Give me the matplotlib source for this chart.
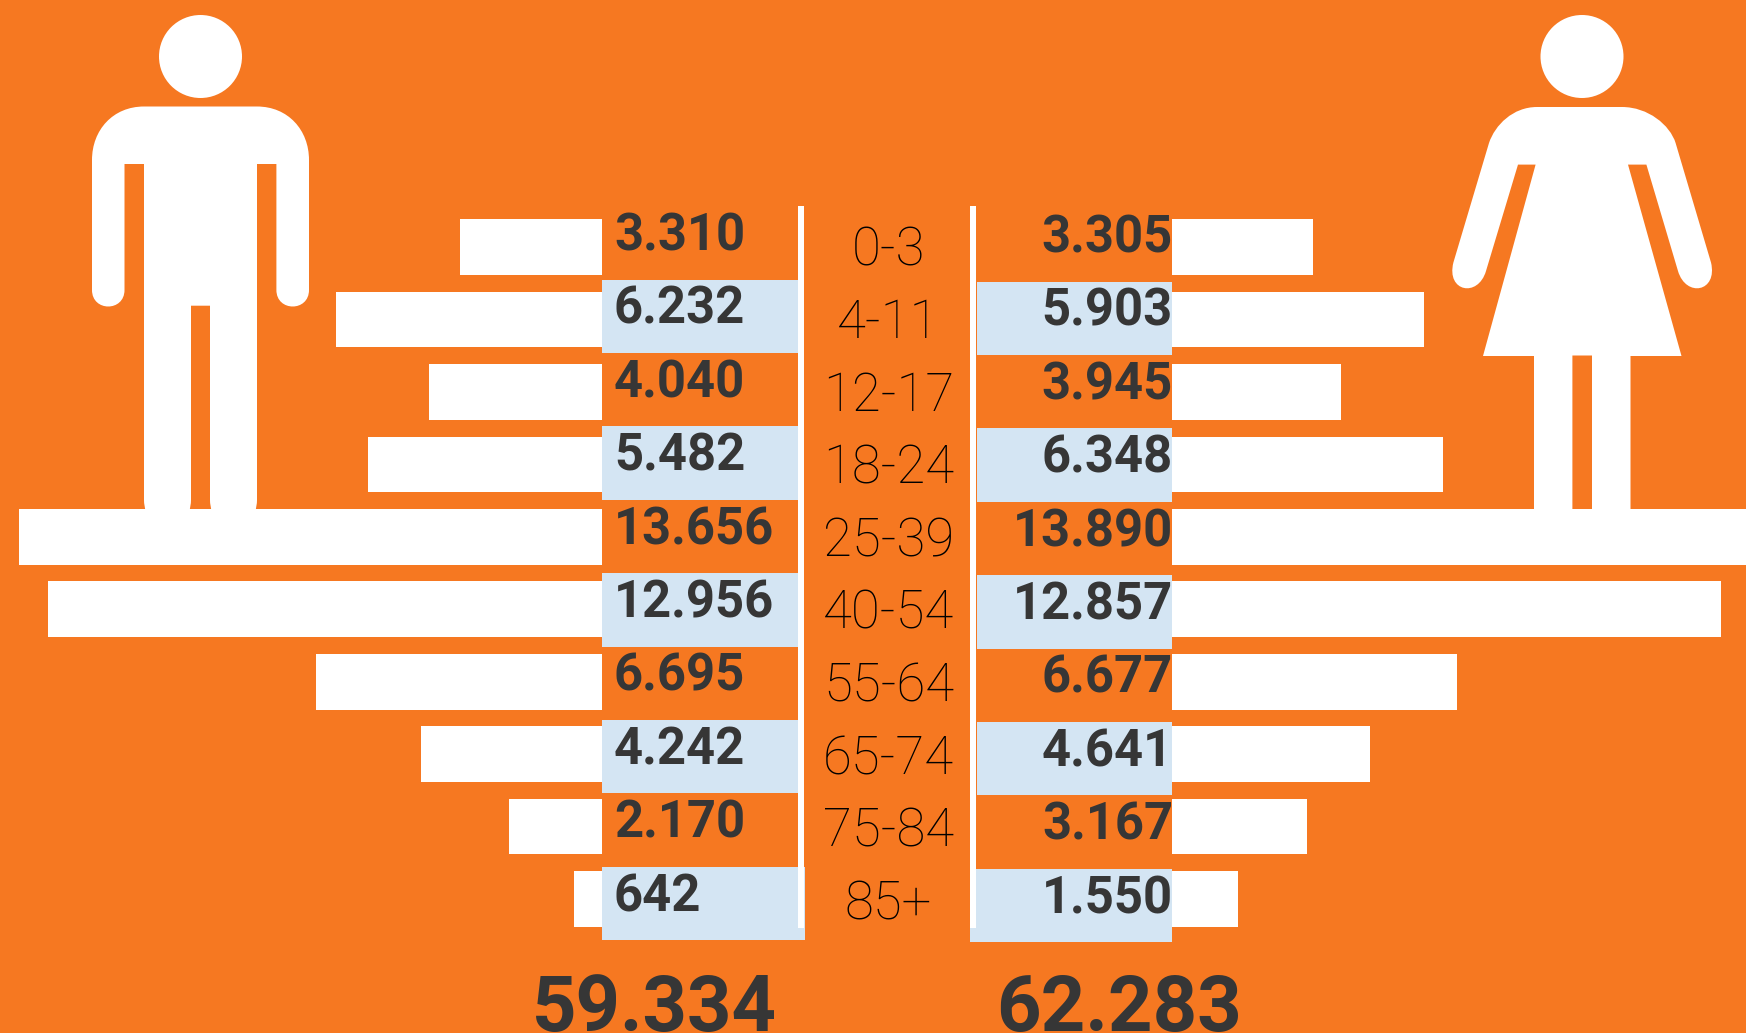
#!/usr/bin/env python3
"""Population by age group and sex, pictogram and mirrored bars."""

import matplotlib
matplotlib.use("Agg")
import matplotlib.pyplot as plt
from matplotlib.patches import Ellipse, PathPatch, Rectangle
from matplotlib.path import Path

ages = ["0-3", "4-11", "12-17", "18-24", "25-39", "40-54", "55-64", "65-74", "75-84", "85+"]
men = [3310, 6232, 4040, 5482, 13656, 12956, 6695, 4242, 2170, 642]
women = [3305, 5903, 3945, 6348, 13890, 12857, 6677, 4641, 3167, 1550]
men_total = 59334
women_total = 62283

ORANGE = "#F67821"
BLUE = "#D4E5F3"
DARK = "#363636"
W, H = 1746, 1033
PX_PER_UNIT = 0.0427
LEFT_BASE, RIGHT_BASE = 601.7, 1172.2
PITCH = 72.45
AGE_PITCH = 72.7
BAND_PITCH = 73.4
BAR_H = 55.7


def label(n):
    # dot as thousands separator
    return f"{n:,}".replace(",", ".")


def shape(ax, parts):
    verts, codes = [], []
    for code, pts in parts:
        verts += pts
        codes += [code] * len(pts)
    ax.add_patch(PathPatch(Path(verts, codes), fc="white", ec="none", zorder=3))


def draw_man(ax):
    ax.add_patch(Ellipse((200.5, 56.5), 83, 83, fc="white", ec="none", zorder=3))
    shape(ax, [
        (Path.MOVETO, [(144, 106.5)]),
        (Path.LINETO, [(257, 106.5)]),
        (Path.CURVE4, [(288, 106.5), (309, 130), (309, 160)]),
        (Path.LINETO, [(309, 290)]),
        (Path.CURVE4, [(309, 312), (276.4, 312), (276.4, 290)]),
        (Path.LINETO, [(276.4, 164), (257, 164), (257, 500)]),
        (Path.CURVE3, [(257, 506), (255, 512)]),
        (Path.LINETO, [(212, 512)]),
        (Path.CURVE3, [(210, 506), (210, 500)]),
        (Path.LINETO, [(210, 305.7), (191, 305.7), (191, 500)]),
        (Path.CURVE3, [(191, 506), (189, 512)]),
        (Path.LINETO, [(146, 512)]),
        (Path.CURVE3, [(144, 506), (144, 500)]),
        (Path.LINETO, [(144, 164), (124.5, 164), (124.5, 290)]),
        (Path.CURVE4, [(124.5, 312), (92, 312), (92, 290)]),
        (Path.LINETO, [(92, 160)]),
        (Path.CURVE4, [(92, 130), (113, 106.5), (144, 106.5)]),
        (Path.CLOSEPOLY, [(144, 106.5)]),
    ])


def draw_woman(ax):
    ax.add_patch(Ellipse((1582, 56.5), 83, 83, fc="white", ec="none", zorder=3))
    shape(ax, [
        (Path.MOVETO, [(1537, 107)]),
        (Path.LINETO, [(1622, 107)]),
        (Path.CURVE4, [(1648, 107), (1670, 125), (1675.6, 143)]),
        (Path.LINETO, [(1711, 262.5)]),
        (Path.CURVE4, [(1718, 292), (1686, 298), (1678, 271)]),
        (Path.LINETO, [(1646.4, 164.6), (1628, 164.6), (1681.5, 356), (1630.5, 356),
                       (1630.5, 512), (1592, 512), (1592, 355.5), (1572.4, 355.5),
                       (1572.4, 512), (1534, 512), (1534, 356), (1483, 356),
                       (1535.6, 164.6), (1518, 164.6), (1486, 271)]),
        (Path.CURVE4, [(1478, 298), (1446, 292), (1453.4, 262.5)]),
        (Path.LINETO, [(1489, 143)]),
        (Path.CURVE4, [(1495, 125), (1513, 107), (1537, 107)]),
        (Path.CLOSEPOLY, [(1537, 107)]),
    ])


fig = plt.figure(figsize=(W / 100, H / 100), dpi=100, facecolor=ORANGE)
ax = fig.add_axes([0, 0, 1, 1])
ax.set_xlim(0, W)
ax.set_ylim(H, 0)
ax.axis("off")

bar_y = [247 + PITCH * i for i in range(len(ages))]
ax.barh(bar_y, [v * PX_PER_UNIT for v in men], height=BAR_H,
        left=[LEFT_BASE - v * PX_PER_UNIT for v in men], color="white", zorder=2)
ax.barh(bar_y, [v * PX_PER_UNIT for v in women], height=BAR_H,
        left=RIGHT_BASE, color="white", zorder=2)

# blue bands on every other row
for i in range(1, len(ages), 2):
    ext = 6.5 if i == 9 else 0
    ax.add_patch(Rectangle((601.7, 279.5 + BAND_PITCH * (i - 1)), 196.3 + ext, 73.5, fc=BLUE, ec="none", zorder=4))
    ax.add_patch(Rectangle((976.5 - ext, 281.5 + BAND_PITCH * (i - 1)), 195.7 + ext, 73.5, fc=BLUE, ec="none", zorder=4))

# white rules either side of the age column
ax.add_patch(Rectangle((798, 206), 6, 721.5, fc="white", ec="none", zorder=5))
ax.add_patch(Rectangle((970, 206), 6, 721.5, fc="white", ec="none", zorder=5))

draw_man(ax)
draw_woman(ax)

for i in range(len(ages)):
    ax.text(614, 236.5 + BAND_PITCH * i, label(men[i]), family="Roboto", weight="bold", fontsize=36.5,
            color=DARK, ha="left", va="center", zorder=6)
    ax.text(1173, 238.5 + BAND_PITCH * i, label(women[i]), family="Roboto", weight="bold", fontsize=36.5,
            color=DARK, ha="right", va="center", zorder=6)
    ax.text(888.6, 250.5 + AGE_PITCH * i, ages[i], family="Roboto", weight="light", fontsize=38,
            color="black", ha="center", va="center", zorder=6)

ax.text(654, 1031, label(men_total), family="Roboto", weight="bold", fontsize=56,
        color=DARK, ha="center", va="baseline", zorder=6)
ax.text(1118.5, 1031, label(women_total), family="Roboto", weight="bold", fontsize=56,
        color=DARK, ha="center", va="baseline", zorder=6)

fig.savefig("out.png", dpi=100, facecolor=ORANGE)
